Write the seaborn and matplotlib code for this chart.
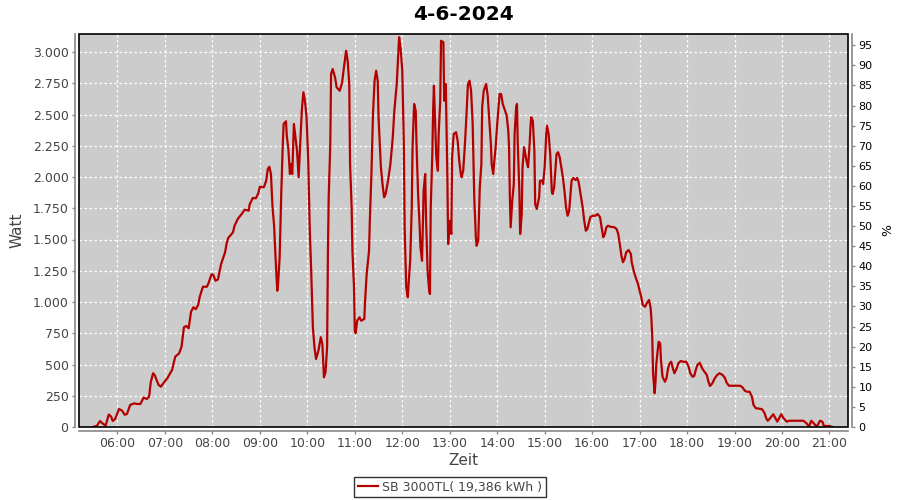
import matplotlib
matplotlib.use("Agg")
import matplotlib.pyplot as plt
from matplotlib.patches import Rectangle
from matplotlib.ticker import FuncFormatter
import pandas as pd
import seaborn as sns

title = "4-6-2024"
series_label = "SB 3000TL( 19,386 kWh )"

times = [
    "05:29", "05:34", "05:38", "05:40", "05:45", "05:49", "05:52", "05:54", "05:57", "06:02",
    "06:06", "06:09", "06:12", "06:16", "06:21", "06:25", "06:29", "06:33", "06:37", "06:40",
    "06:42", "06:45", "06:47", "06:52", "06:55", "06:58", "07:03", "07:09", "07:13", "07:18",
    "07:21", "07:24", "07:27", "07:30", "07:33", "07:36", "07:39", "07:42", "07:44", "07:48",
    "07:53", "07:55", "07:59", "08:01", "08:04", "08:07", "08:11", "08:16", "08:18", "08:20",
    "08:26", "08:28", "08:32", "08:37", "08:41", "08:46", "08:47", "08:51", "08:55", "08:58",
    "09:00", "09:05", "09:08", "09:10", "09:12", "09:14", "09:16", "09:18", "09:20", "09:22",
    "09:23", "09:25", "09:27", "09:29", "09:30", "09:33", "09:34", "09:36", "09:38", "09:39",
    "09:41", "09:43", "09:45", "09:47", "09:49", "09:50", "09:53", "09:55", "09:57", "09:59",
    "10:01", "10:03", "10:05", "10:07", "10:09", "10:11", "10:14", "10:17", "10:19", "10:21",
    "10:23", "10:25", "10:26", "10:27", "10:29", "10:30", "10:32", "10:35", "10:37", "10:41",
    "10:44", "10:46", "10:49", "10:51", "10:53", "10:54", "10:56", "10:57", "10:59", "11:00",
    "11:01", "11:03", "11:06", "11:08", "11:12", "11:13", "11:15", "11:18", "11:19", "11:21",
    "11:23", "11:25", "11:27", "11:29", "11:30", "11:33", "11:35", "11:37", "11:39", "11:42",
    "11:45", "11:48", "11:50", "11:53", "11:55", "11:56", "11:58", "12:00", "12:02", "12:03",
    "12:05", "12:07", "12:08", "12:10", "12:12", "12:13", "12:15", "12:17", "12:18", "12:20",
    "12:22", "12:23", "12:25", "12:27", "12:29", "12:30", "12:32", "12:34", "12:35", "12:36",
    "12:38", "12:39", "12:40", "12:41", "12:43", "12:45", "12:46", "12:48", "12:49", "12:52",
    "12:53", "12:55", "12:57", "12:58", "13:00", "13:02", "13:03", "13:05", "13:08", "13:10",
    "13:12", "13:14", "13:15", "13:17", "13:19", "13:21", "13:23", "13:25", "13:27", "13:29",
    "13:31", "13:33", "13:34", "13:36", "13:38", "13:40", "13:41", "13:43", "13:46", "13:48",
    "13:50", "13:52", "13:53", "13:55", "13:56", "13:58", "14:00", "14:02", "14:03", "14:05",
    "14:07", "14:10", "14:12", "14:14", "14:15", "14:16", "14:17", "14:19", "14:21", "14:22",
    "14:24", "14:25", "14:26", "14:28", "14:29", "14:31", "14:32", "14:34", "14:37", "14:39",
    "14:41", "14:42", "14:43", "14:45", "14:47", "14:48", "14:50", "14:53", "14:54", "14:57",
    "14:58", "15:00", "15:02", "15:03", "15:05", "15:07", "15:09", "15:10", "15:12", "15:14",
    "15:15", "15:17", "15:19", "15:21", "15:23", "15:25", "15:27", "15:29", "15:31", "15:33",
    "15:34", "15:36", "15:39", "15:41", "15:43", "15:46", "15:48", "15:50", "15:52", "15:54",
    "15:56", "15:58", "16:01", "16:04", "16:07", "16:10", "16:12", "16:14", "16:16", "16:18",
    "16:20", "16:23", "16:28", "16:31", "16:33", "16:35", "16:37", "16:39", "16:41", "16:43",
    "16:46", "16:49", "16:50", "16:53", "16:55", "16:58", "17:00", "17:02", "17:04", "17:07",
    "17:09", "17:12", "17:14", "17:15", "17:16", "17:17", "17:19", "17:20", "17:21", "17:23",
    "17:24", "17:26", "17:27", "17:29", "17:32", "17:34", "17:36", "17:38", "17:40", "17:42",
    "17:44", "17:47", "17:49", "17:52", "17:55", "17:59", "18:02", "18:04", "18:07", "18:09",
    "18:11", "18:13", "18:16", "18:19", "18:22", "18:25", "18:27", "18:29", "18:32", "18:35",
    "18:38", "18:41", "18:45", "18:48", "18:50", "18:53", "18:58", "19:07", "19:10", "19:13",
    "19:16", "19:19", "19:22", "19:24", "19:27", "19:32", "19:35", "19:38", "19:40", "19:42",
    "19:45", "19:49", "19:51", "19:54", "19:57", "19:59", "20:02", "20:06", "20:09", "20:27",
    "20:31", "20:34", "20:37", "20:40", "20:44", "20:48", "20:51", "20:53", "21:00", "21:04",
]

watt = [
    0, 10, 48, 35, 10, 100, 83, 48, 64, 144,
    130, 98, 104, 176, 189, 184, 184, 235, 224, 243,
    355, 430, 416, 336, 323, 350, 390, 456, 562, 590,
    642, 798, 808, 790, 922, 958, 942, 976, 1042, 1122,
    1122, 1150, 1222, 1218, 1170, 1180, 1304, 1397, 1469, 1512,
    1557, 1610, 1664, 1704, 1739, 1731, 1779, 1832, 1830, 1870,
    1922, 1918, 1970, 2064, 2082, 2024, 1758, 1610, 1330, 1090,
    1144, 1357, 1864, 2264, 2424, 2446, 2330, 2224, 2024, 2104,
    2024, 2424, 2318, 2210, 1998, 2130, 2530, 2678, 2610, 2478,
    2158, 1598, 1224, 798, 638, 544, 610, 718, 664, 398,
    438, 638, 1384, 1838, 2264, 2824, 2864, 2798, 2718, 2690,
    2758, 2864, 3010, 2930, 2744, 2104, 1758, 1410, 1118, 770,
    750, 850, 878, 850, 864, 1010, 1224, 1410, 1650, 2024,
    2504, 2770, 2850, 2770, 2478, 2078, 1944, 1838, 1864, 1970,
    2104, 2318, 2530, 2744, 2984, 3118, 3024, 2850, 2264, 1598,
    1118, 1038, 1144, 1330, 1758, 2238, 2584, 2530, 2264, 1864,
    1598, 1438, 1330, 1890, 2024, 1678, 1250, 1090, 1064, 1758,
    2184, 2530, 2730, 2530, 2158, 2050, 2344, 2610, 3090, 3078,
    2610, 2744, 1998, 1464, 1650, 1544, 2158, 2344, 2358, 2290,
    2130, 2024, 1998, 2050, 2238, 2478, 2744, 2770, 2690, 2424,
    1838, 1518, 1450, 1490, 1918, 2104, 2558, 2690, 2744, 2650,
    2450, 2264, 2104, 2024, 2104, 2238, 2424, 2584, 2664, 2664,
    2584, 2530, 2490, 2370, 2238, 1838, 1598, 1810, 1944, 2344,
    2558, 2584, 2264, 1890, 1544, 1704, 2078, 2238, 2130, 2078,
    2264, 2398, 2478, 2450, 2210, 1784, 1744, 1838, 1970, 1970,
    1944, 2078, 2344, 2410, 2344, 2184, 1890, 1864, 1918, 2104,
    2184, 2198, 2158, 2078, 1998, 1890, 1758, 1690, 1731, 1890,
    1970, 1992, 1976, 1992, 1958, 1838, 1758, 1650, 1570, 1584,
    1638, 1682, 1690, 1690, 1704, 1678, 1598, 1518, 1544, 1598,
    1610, 1602, 1598, 1584, 1544, 1464, 1370, 1318, 1344, 1397,
    1416, 1384, 1318, 1238, 1198, 1144, 1090, 1042, 976, 962,
    990, 1016, 950, 856, 722, 430, 270, 350, 496, 616,
    682, 670, 536, 402, 362, 390, 470, 510, 522, 470,
    430, 470, 510, 528, 522, 522, 482, 430, 402, 408,
    456, 496, 514, 470, 442, 416, 362, 328, 350, 390,
    416, 430, 416, 390, 355, 330, 330, 330, 318, 290,
    282, 282, 242, 176, 150, 146, 141, 110, 70, 50,
    70, 102, 78, 43, 78, 102, 70, 43, 50, 50,
    30, 3, 50, 30, 3, 50, 43, 8, 8, 0,
]

hour_ticks = list(range(6, 22))
watt_ticks = list(range(0, 3001, 250))
pct_ticks = list(range(0, 96, 5))

line_color = "#b50000"
text_gray = "#444444"
axis_gray = "#888888"

df = pd.DataFrame({"time": times, "watt": watt})
parts = df["time"].str.split(":", expand=True).astype(int)
df["hour"] = parts[0] + parts[1] / 60.0

plt.rcParams["font.family"] = ["DejaVu Sans"]

fig = plt.figure(figsize=(9, 5), dpi=100)
ax = fig.add_axes([0.0878, 0.146, 0.8544, 0.786])
ax.set_facecolor("#cccccc")

sns.lineplot(data=df, x="hour", y="watt", color=line_color, linewidth=1.6,
             estimator=None, sort=False, ax=ax, label=series_label, legend=False)

ax.set_xlim(5.19, 21.39)
ax.set_ylim(0, 3144)
ax.set_xticks(hour_ticks)
ax.set_xticklabels([f"{h:02d}:00" for h in hour_ticks])
ax.set_yticks(watt_ticks)
ax.yaxis.set_major_formatter(FuncFormatter(lambda v, p: f"{v:,.0f}".replace(",", ".")))

ax.grid(True, color="white", linestyle=(0, (2, 2)), linewidth=0.9)
ax.set_axisbelow(True)

for side in ["top", "right"]:
    ax.spines[side].set_visible(False)
for side in ["left", "bottom"]:
    ax.spines[side].set_position(("outward", 3))
    ax.spines[side].set_color(axis_gray)
    ax.spines[side].set_linewidth(1.2)
ax.add_patch(Rectangle((0, 0), 1, 1, transform=ax.transAxes, fill=False,
                       edgecolor="black", linewidth=1.2, clip_on=False, zorder=5))

ax.tick_params(axis="both", direction="out", length=2.5, width=1, color=axis_gray,
               labelsize=9, labelcolor=text_gray, pad=2)
ax.set_xlabel("Zeit", fontsize=11, color=text_gray, labelpad=2)
ax.set_ylabel("Watt", fontsize=11, color=text_gray, labelpad=6)
ax.set_title(title, fontsize=14.5, fontweight="bold", pad=10)

ax2 = ax.twinx()
ax2.set_ylim(0, 97.8)
ax2.set_yticks(pct_ticks)
for side in ["top", "left", "bottom"]:
    ax2.spines[side].set_visible(False)
ax2.spines["right"].set_position(("outward", 3))
ax2.spines["right"].set_color(axis_gray)
ax2.spines["right"].set_linewidth(1.2)
ax2.tick_params(axis="y", direction="out", length=2.5, width=1, color=axis_gray,
                labelsize=8, labelcolor="black", pad=2)
ax2.set_ylabel("%", fontsize=9, color="black", labelpad=6)

handles, labels = ax.get_legend_handles_labels()
fig.legend(handles, labels, loc="center", bbox_to_anchor=(0.5, 0.026), frameon=True,
           fancybox=False, edgecolor="black", fontsize=9, handlelength=1.6,
           handletextpad=0.4, borderpad=0.3, labelcolor=text_gray)

fig.savefig("out.png", dpi=100, facecolor="white")
